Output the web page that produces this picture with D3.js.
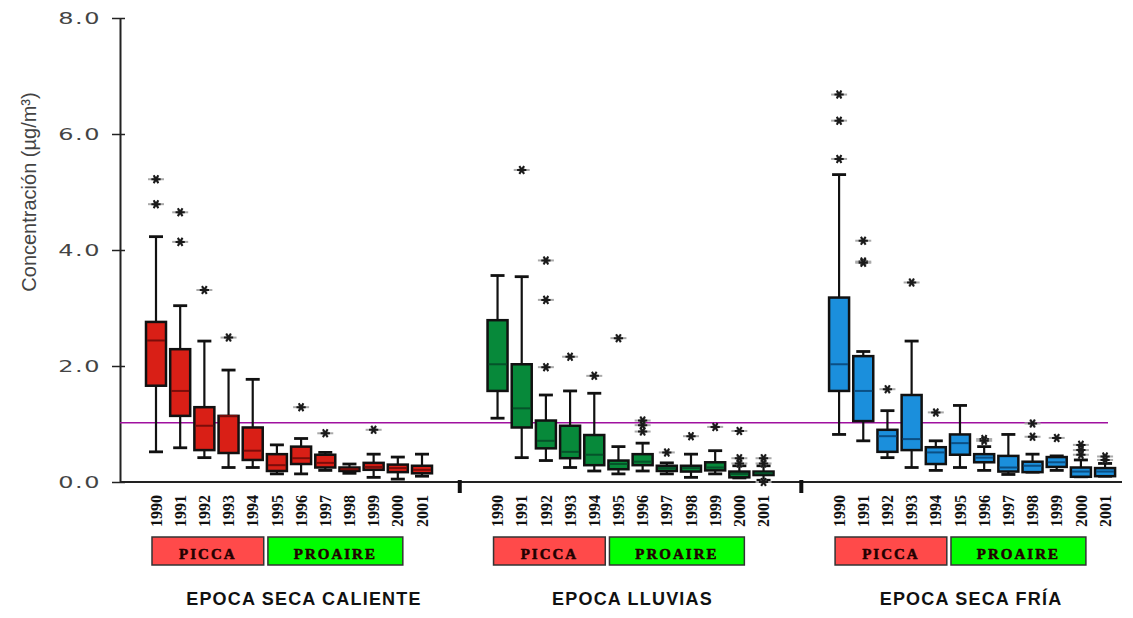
<!DOCTYPE html>
<html>
<head>
<meta charset="utf-8">
<script src="https://cdn.jsdelivr.net/npm/d3@7"></script>
<style>
  html, body { margin: 0; padding: 0; background: #fff; }
  svg { display: block; }
</style>
</head>
<body>
<svg id="chart" width="1133" height="618"></svg>
<script>
// ---------- DATA ----------
const years = ["1990","1991","1992","1993","1994","1995","1996","1997","1998","1999","2000","2001"];
const epocas = ["EPOCA SECA CALIENTE", "EPOCA LLUVIAS", "EPOCA SECA FRÍA"];
const yTicks = [0, 2, 4, 6, 8];
const limite = 1.02;
const programas = ["PICCA", "PROAIRE"];
const programaInicio = ["1990", "1995"];
const programaFin = ["1994", "2000"];

// [min, q1, mediana, q3, max]
const calienteStats = [
  [0.52,1.66,2.44,2.76,4.23],
  [0.59,1.14,1.57,2.29,3.04],
  [0.42,0.55,0.97,1.29,2.43],
  [0.25,0.50,1.14,1.14,1.93],
  [0.25,0.38,0.54,0.94,1.77],
  [0.14,0.19,0.29,0.48,0.64],
  [0.14,0.31,0.41,0.61,0.75],
  [0.20,0.25,0.33,0.47,0.51],
  [0.15,0.19,0.22,0.25,0.31],
  [0.08,0.21,0.26,0.33,0.48],
  [0.05,0.17,0.24,0.30,0.43],
  [0.10,0.15,0.21,0.28,0.48]
];
const calienteOutliers = [[5.22,4.79],[4.65,4.14],[3.31],[2.49],[],[],[1.29],[0.84],[],[0.90],[],[]];

const lluviasStats = [
  [1.10,1.57,2.03,2.79,3.56],
  [0.42,0.94,1.27,2.03,3.54],
  [0.37,0.58,0.71,1.06,1.50],
  [0.25,0.41,0.52,0.97,1.57],
  [0.19,0.29,0.47,0.81,1.53],
  [0.14,0.22,0.31,0.37,0.61],
  [0.19,0.29,0.35,0.48,0.67],
  [0.14,0.19,0.24,0.28,0.33],
  [0.08,0.18,0.24,0.28,0.48],
  [0.14,0.20,0.25,0.34,0.54],
  [0.07,0.08,0.14,0.18,0.28],
  [0.03,0.12,0.15,0.18,0.28]
];
const lluviasOutliers = [[],[5.38],[3.82,3.14,1.98],[2.16],[1.83],[2.48],[1.06,0.98,0.87],[0.51],[0.79],[0.95],[0.88,0.41,0.32],[0.41,0.32,0.0]];

const friaStats = [
  [0.82,1.57,2.03,3.18,5.30],
  [0.71,1.05,1.57,2.17,2.25],
  [0.42,0.52,0.79,0.90,1.23],
  [0.25,0.55,0.74,1.50,2.43],
  [0.20,0.31,0.51,0.60,0.71],
  [0.25,0.47,0.67,0.82,1.32],
  [0.20,0.34,0.42,0.48,0.61],
  [0.13,0.18,0.25,0.45,0.82],
  [0.17,0.17,0.28,0.35,0.48],
  [0.20,0.26,0.34,0.43,0.45],
  [0.09,0.09,0.18,0.25,0.38],
  [0.10,0.10,0.18,0.24,0.32]
];
const friaOutliers = [[6.68,6.23,5.57],[4.16,3.80,3.78],[1.60],[3.44],[1.20],[],[0.74,0.71],[],[1.01,0.78],[0.76],[0.64,0.55,0.47],[0.44,0.38]];

// ---------- STYLE ----------
const groupStats = [calienteStats, lluviasStats, friaStats];
const groupOutliers = [calienteOutliers, lluviasOutliers, friaOutliers];
const boxFill = ["#d91f16", "#07893a", "#1b8fdc"];
const medianColor = ["#7a0d0a", "#05532a", "#0b4f84"];
const progFill = ["#ff4a4a", "#00ff00"];
const titleShift = [13, 0, -3];

const svg = d3.select("#chart");
const y = d3.scaleLinear().domain([0, 8]).range([482, 18]);
const gx = d3.scaleBand().domain(epocas).range([140, 1125]).paddingInner(0.116);
const xi = d3.scalePoint().domain(years).range([16, 282]);
const X = (g, yr) => gx(epocas[g]) + xi(yr);
const boxW = 20, capW = 14;

// Y axis
const yAxis = svg.append("g").attr("transform", "translate(120,0)")
  .call(d3.axisLeft(y).tickValues(yTicks).tickFormat(d3.format(".1f")).tickSizeOuter(0));
yAxis.select(".domain").attr("stroke", "#222").attr("stroke-width", 2);
yAxis.selectAll(".tick line").attr("x1", -8).attr("x2", 5).attr("stroke", "#222").attr("stroke-width", 1.5);
yAxis.selectAll(".tick text")
  .attr("x", -19 / 1.5)
  .attr("transform", "scale(1.5,1)")
  .attr("font-family", "DejaVu Sans, sans-serif")
  .attr("font-size", 16)
  .attr("letter-spacing", 1)
  .attr("fill", "#444");

// Y label
svg.append("text")
  .attr("transform", "translate(36,192) rotate(-90)")
  .attr("text-anchor", "middle")
  .attr("font-family", "Liberation Sans Narrow, Liberation Sans, Arial, sans-serif")
  .attr("font-size", 20)
  .attr("fill", "#444")
  .text("Concentración (µg/m³)");

// bottom axis line
svg.append("line").attr("x1", 120).attr("x2", 1122).attr("y1", y(0)).attr("y2", y(0))
  .attr("stroke", "#222").attr("stroke-width", 2);
// group separators
for (let g = 0; g < epocas.length - 1; g++) {
  const sx = (X(g, years[years.length - 1]) + X(g + 1, years[0])) / 2;
  svg.append("rect").attr("x", sx - 2).attr("y", y(0) - 2).attr("width", 4).attr("height", 13).attr("fill", "#111");
}

// reference line
svg.append("line").attr("x1", 120).attr("x2", 1108).attr("y1", y(limite)).attr("y2", y(limite))
  .attr("stroke", "#a0109f").attr("stroke-width", 1.5);

// boxes
const star = d3.symbol().type(d3.symbolAsterisk).size(60);
groupStats.forEach((stats, g) => {
  const gg = svg.append("g");
  stats.forEach((s, i) => {
    const cx = X(g, years[i]);
    const [mn, q1, md, q3, mx] = s;
    // whiskers
    gg.append("line").attr("x1", cx).attr("x2", cx).attr("y1", y(mx)).attr("y2", y(q3)).attr("stroke", "#111").attr("stroke-width", 2.2);
    gg.append("line").attr("x1", cx).attr("x2", cx).attr("y1", y(q1)).attr("y2", y(mn)).attr("stroke", "#111").attr("stroke-width", 2.2);
    gg.append("line").attr("x1", cx - capW / 2).attr("x2", cx + capW / 2).attr("y1", y(mx)).attr("y2", y(mx)).attr("stroke", "#111").attr("stroke-width", 2.8);
    gg.append("line").attr("x1", cx - capW / 2).attr("x2", cx + capW / 2).attr("y1", y(mn)).attr("y2", y(mn)).attr("stroke", "#111").attr("stroke-width", 2.8);
    // box
    gg.append("rect").attr("x", cx - boxW / 2).attr("y", y(q3)).attr("width", boxW)
      .attr("height", Math.max(1, y(q1) - y(q3)))
      .attr("fill", boxFill[g]).attr("stroke", "#111").attr("stroke-width", 2.5);
    gg.append("line").attr("x1", cx - boxW / 2 + 1).attr("x2", cx + boxW / 2 - 1).attr("y1", y(md)).attr("y2", y(md))
      .attr("stroke", medianColor[g]).attr("stroke-width", 2);
    // outliers
    groupOutliers[g][i].forEach(v => {
      gg.append("line").attr("x1", cx - 8).attr("x2", cx + 8).attr("y1", y(v)).attr("y2", y(v))
        .attr("stroke", "#aaa").attr("stroke-width", 2);
      gg.append("rect").attr("x", cx - 3).attr("y", y(v) - 3).attr("width", 6).attr("height", 6)
        .attr("fill", "#888").attr("opacity", 0.6);
      gg.append("path").attr("d", star).attr("transform", `translate(${cx},${y(v)}) rotate(90)`)
        .attr("fill", "none").attr("stroke", "#1a1a1a").attr("stroke-width", 2);
    });
  });

  // year labels
  years.forEach(yr => {
    svg.append("text")
      .attr("transform", `translate(${X(g, yr)},495) rotate(-90)`)
      .attr("text-anchor", "end")
      .attr("dy", "0.35em")
      .attr("font-family", "Liberation Serif, Times New Roman, serif")
      .attr("font-weight", "bold")
      .attr("font-size", 16)
      .attr("fill", "#111")
      .text(yr);
  });

  // program boxes
  programas.forEach((p, k) => {
    const x0 = X(g, programaInicio[k]) + (k === 0 ? -4 : -9);
    const x1 = X(g, programaFin[k]) + (k === 0 ? 11 : 5);
    svg.append("rect").attr("x", x0).attr("y", 537).attr("width", x1 - x0).attr("height", 28)
      .attr("fill", progFill[k]).attr("stroke", "#333").attr("stroke-width", 1.5);
    svg.append("text").attr("x", (x0 + x1) / 2).attr("y", 559)
      .attr("text-anchor", "middle")
      .attr("font-family", "Liberation Serif, Times New Roman, serif")
      .attr("font-weight", "bold")
      .attr("font-size", 15)
      .attr("letter-spacing", 2)
      .attr("stroke", "#220000")
      .attr("stroke-width", 0.5)
      .attr("fill", "#220000")
      .text(p);
  });

  // group title
  svg.append("text")
    .attr("x", gx(epocas[g]) + gx.bandwidth() / 2 + titleShift[g])
    .attr("y", 605)
    .attr("text-anchor", "middle")
    .attr("font-family", "Liberation Sans, Arial, sans-serif")
    .attr("font-weight", "bold")
    .attr("font-size", 18)
    .attr("letter-spacing", 1.2)
    .attr("fill", "#111")
    .text(epocas[g]);
});
</script>
</body>
</html>
